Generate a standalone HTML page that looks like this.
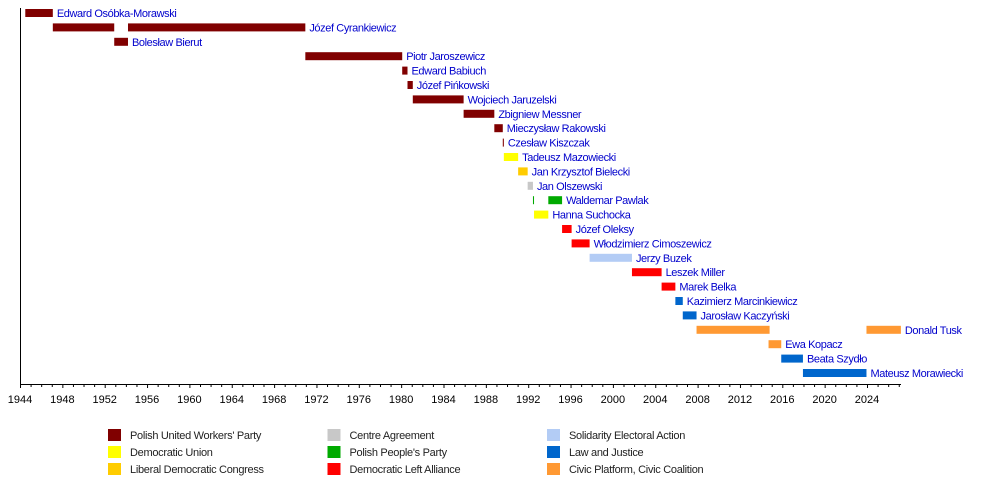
<!DOCTYPE html>
<html><head><meta charset="utf-8"><style>body{margin:0;background:#fff}svg{display:block}text{font-family:"Liberation Sans",sans-serif;font-size:11px}</style></head><body>
<svg id="s" width="1000" height="483" xmlns="http://www.w3.org/2000/svg">
<rect width="1000" height="483" fill="#fff"/>
<g id="bars"></g>
<line x1="20.5" y1="8" x2="20.5" y2="384" stroke="#000"/>
<line x1="20" y1="384.5" x2="901" y2="384.5" stroke="#000"/>
<g id="ticks"></g>
<g id="leg"></g>
</svg>
<script>
const X=y=>20+(y-1944)*10.5875;
const C={p:"#800000",du:"#FFFF00",ld:"#FFCC00",ca:"#C8C8C8",pp:"#00AA00",sl:"#FF0000",se:"#B3CCF5",lj:"#0066CC",po:"#FF9933"};
const rows=[
["Edward Osóbka-Morawski",[[1944.5,1947.1,"p"]]],
["Józef Cyrankiewicz",[[1947.1,1952.9,"p"],[1954.2,1970.95,"p"]]],
["Bolesław Bierut",[[1952.9,1954.2,"p"]]],
["Piotr Jaroszewicz",[[1970.95,1980.1,"p"]]],
["Edward Babiuch",[[1980.1,1980.6,"p"]]],
["Józef Pińkowski",[[1980.6,1981.1,"p"]]],
["Wojciech Jaruzelski",[[1981.1,1985.9,"p"]]],
["Zbigniew Messner",[[1985.9,1988.8,"p"]]],
["Mieczysław Rakowski",[[1988.8,1989.6,"p"]]],
["Czesław Kiszczak",[[1989.6,1989.7,"p"]]],
["Tadeusz Mazowiecki",[[1989.7,1991.05,"du"]]],
["Jan Krzysztof Bielecki",[[1991.05,1991.95,"ld"]]],
["Jan Olszewski",[[1991.95,1992.45,"ca"]]],
["Waldemar Pawlak",[[1992.45,1992.55,"pp"],[1993.9,1995.2,"pp"]]],
["Hanna Suchocka",[[1992.55,1993.9,"du"]]],
["Józef Oleksy",[[1995.2,1996.1,"sl"]]],
["Włodzimierz Cimoszewicz",[[1996.1,1997.8,"sl"]]],
["Jerzy Buzek",[[1997.8,2001.8,"se"]]],
["Leszek Miller",[[2001.8,2004.6,"sl"]]],
["Marek Belka",[[2004.6,2005.9,"sl"]]],
["Kazimierz Marcinkiewicz",[[2005.9,2006.6,"lj"]]],
["Jarosław Kaczyński",[[2006.6,2007.9,"lj"]]],
["Donald Tusk",[[2007.9,2014.8,"po"],[2023.95,2027.2,"po"]]],
["Ewa Kopacz",[[2014.7,2015.9,"po"]]],
["Beata Szydło",[[2015.9,2017.95,"lj"]]],
["Mateusz Morawiecki",[[2017.95,2023.95,"lj"]]]];
let h="";
rows.forEach((r,i)=>{const c=13+14.4*i;let end=0;
r[1].forEach(b=>{const a=X(b[0]),e=X(b[1]);end=Math.max(end,e);h+=`<rect x="${a}" y="${c-4}" width="${Math.max(e-a,1)}" height="8" fill="${C[b[2]]}"/>`;});
h+=`<text x="${end+4}" y="${c+4}" fill="#0000CC" letter-spacing="-0.4">${r[0]}</text>`;});
document.getElementById("bars").innerHTML=h;
let t="";
for(let y=1944;y<=2027;y++){const x=X(y)+0.5;t+=`<line x1="${x}" y1="384" x2="${x}" y2="${(y%4==0)?388:387}" stroke="#000"/>`;if(y%4==0&&y<=2024)t+=`<text x="${X(y)}" y="403" text-anchor="middle" fill="#000">${y}</text>`;}
document.getElementById("ticks").innerHTML=t;
const L=[["Polish United Workers' Party","p"],["Democratic Union","du"],["Liberal Democratic Congress","ld"],["Centre Agreement","ca"],["Polish People's Party","pp"],["Democratic Left Alliance","sl"],["Solidarity Electoral Action","se"],["Law and Justice","lj"],["Civic Platform, Civic Coalition","po"]];
let g="";L.forEach((l,i)=>{const col=Math.floor(i/3),row=i%3,x=108+col*219.5,y=429+row*17;
g+=`<rect x="${x}" y="${y}" width="13" height="12" fill="${C[l[1]]}"/><text x="${x+22}" y="${y+10}" fill="#222" letter-spacing="-0.3">${l[0]}</text>`;});
document.getElementById("leg").innerHTML=g;
</script>
</body></html>
